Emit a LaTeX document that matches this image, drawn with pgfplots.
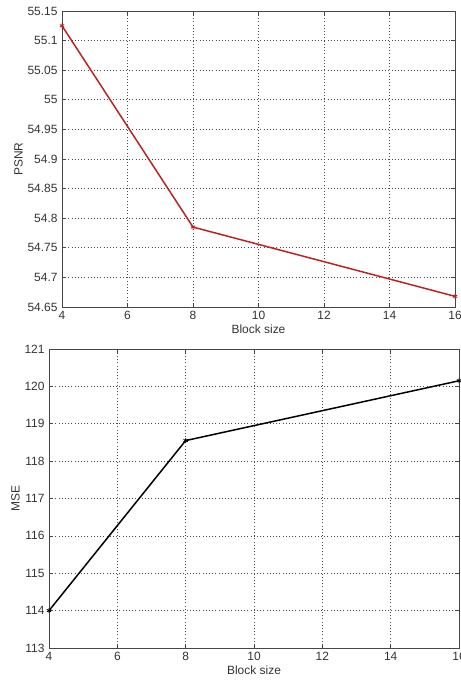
\documentclass[border=0pt]{standalone}
\usepackage{fontspec}
\setmainfont{Liberation Sans}
\usepackage{pgfplots}
\pgfplotsset{compat=1.18}
\definecolor{mred}{RGB}{185,35,35}
\definecolor{axgray}{RGB}{70,70,70}
\pgfplotsset{
  mstyle/.style={
    scale only axis,
    axis line style={axgray, line width=0.8pt},
    tick style={axgray, line width=0.6pt},
    tick align=inside,
    major tick length=4bp,
    xtick={4,6,...,16},
    xmin=4, xmax=16,
    grid=major,
    grid style={black!70, dash pattern=on 0.8bp off 2.4bp, line width=0.6pt},
    tick label style={font=\fontsize{12}{13}\selectfont, text=black!80},
    label style={font=\fontsize{12}{13}\selectfont, text=black!80},
    /pgf/number format/assume math mode=true,
    xlabel={Block size},
    xlabel style={yshift=2bp},
    ylabel style={yshift=-2bp},
    xticklabel style={yshift=-1bp},
    yticklabel style={xshift=-1bp, /pgf/number format/fixed, /pgf/number format/precision=2},
  }
}
\begin{document}
\begin{tikzpicture}[x=1bp,y=1bp]
\useasboundingbox (0,0) rectangle (461,681);
\begin{axis}[mstyle,
  at={(62bp,374bp)}, anchor=south west,
  width=393bp, height=296bp,
  ymin=54.65, ymax=55.15,
  ytick={54.65,54.7,...,55.16},
  yticklabels={54.65,54.7,54.75,54.8,54.85,54.9,54.95,55,55.05,55.1,55.15},
  ylabel={PSNR},
]
\addplot[mred, line width=1.5pt, mark=asterisk, mark size=2.5pt, mark options={line width=0.8pt}]
  coordinates {(4,55.125) (8,54.785) (16,54.668)};
\end{axis}
\begin{axis}[mstyle,
  at={(49bp,33bp)}, anchor=south west,
  width=410bp, height=299bp,
  ymin=113, ymax=121,
  ytick={113,...,121},
  ylabel={MSE},
]
\addplot[black, line width=1.5pt, mark=asterisk, mark size=2.5pt, mark options={line width=0.8pt}]
  coordinates {(4,114) (8,118.55) (16,120.15)};
\end{axis}
\end{tikzpicture}
\end{document}
